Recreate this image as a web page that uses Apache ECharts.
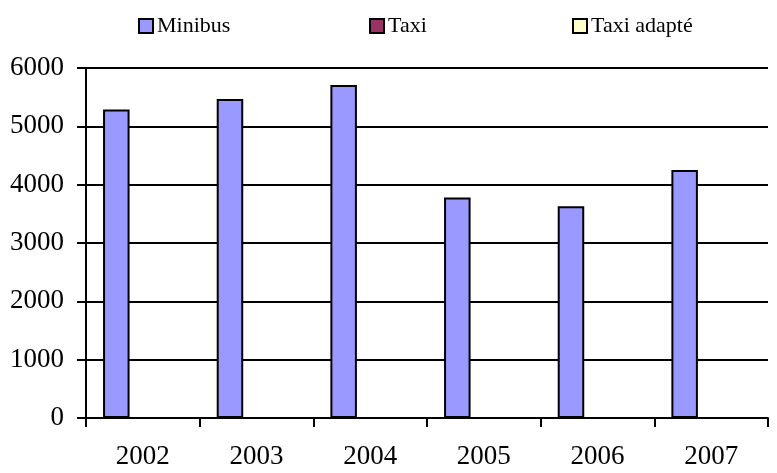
<!DOCTYPE html>
<html>
<head>
<meta charset="utf-8">
<script src="https://cdn.jsdelivr.net/npm/echarts@6/dist/echarts.min.js"></script>
<style>html,body{margin:0;padding:0;background:#fff}#c{width:777px;height:473px}</style>
</head>
<body>
<div id="c"></div>
<script>
var years = ['2002', '2003', '2004', '2005', '2006', '2007'];
var minibus = [5290, 5470, 5710, 3780, 3630, 4250];
var taxi = [0, 0, 0, 0, 0, 0];
var taxiAdapte = [0, 0, 0, 0, 0, 0];
var yTicks = [0, 1000, 2000, 3000, 4000, 5000, 6000];

var font = 'Liberation Serif';
var chart = echarts.init(document.getElementById('c'));
function legendAt(name, left) {
  return {
    data: [name], left: left, top: 15, itemWidth: 14, itemHeight: 14, itemGap: 0,
    icon: 'rect',
    textStyle: { fontFamily: font, fontSize: 22, color: '#000', padding: [0, 0, 0, -1] },
    itemStyle: { borderColor: '#000', borderWidth: 2 },
    selectedMode: false, padding: 0
  };
}
chart.setOption({
  animation: false,
  legend: [legendAt('Minibus', 138), legendAt('Taxi', 369), legendAt('Taxi adapté', 572)],
  grid: { left: 86, right: 9, top: 68, bottom: 55 },
  xAxis: {
    type: 'category', data: years,
    axisLine: { lineStyle: { color: '#000', width: 2 } },
    axisTick: { show: true, length: 9, lineStyle: { color: '#000', width: 2 } },
    axisLabel: { fontFamily: font, fontSize: 27, color: '#000', margin: 25 }
  },
  yAxis: {
    type: 'value', min: yTicks[0], max: yTicks[yTicks.length - 1], interval: 1000,
    axisLine: { show: true, lineStyle: { color: '#000', width: 2 } },
    axisTick: { show: true, length: 9, lineStyle: { color: '#000', width: 2 } },
    axisLabel: { fontFamily: font, fontSize: 27, color: '#000', margin: 22,
      formatter: function (v) { return String(v); } },
    splitLine: { lineStyle: { color: '#000', width: 2 } }
  },
  series: [
    { name: 'Minibus', type: 'bar', data: minibus, barGap: '0%', barCategoryGap: '30%',
      itemStyle: { color: '#9999FF', borderColor: '#000', borderWidth: 2 } },
    { name: 'Taxi', type: 'bar', data: taxi,
      itemStyle: { color: '#993366', borderColor: '#000', borderWidth: 2 } },
    { name: 'Taxi adapté', type: 'bar', data: taxiAdapte,
      itemStyle: { color: '#FFFFCC', borderColor: '#000', borderWidth: 2 } }
  ]
});
</script>
</body>
</html>
